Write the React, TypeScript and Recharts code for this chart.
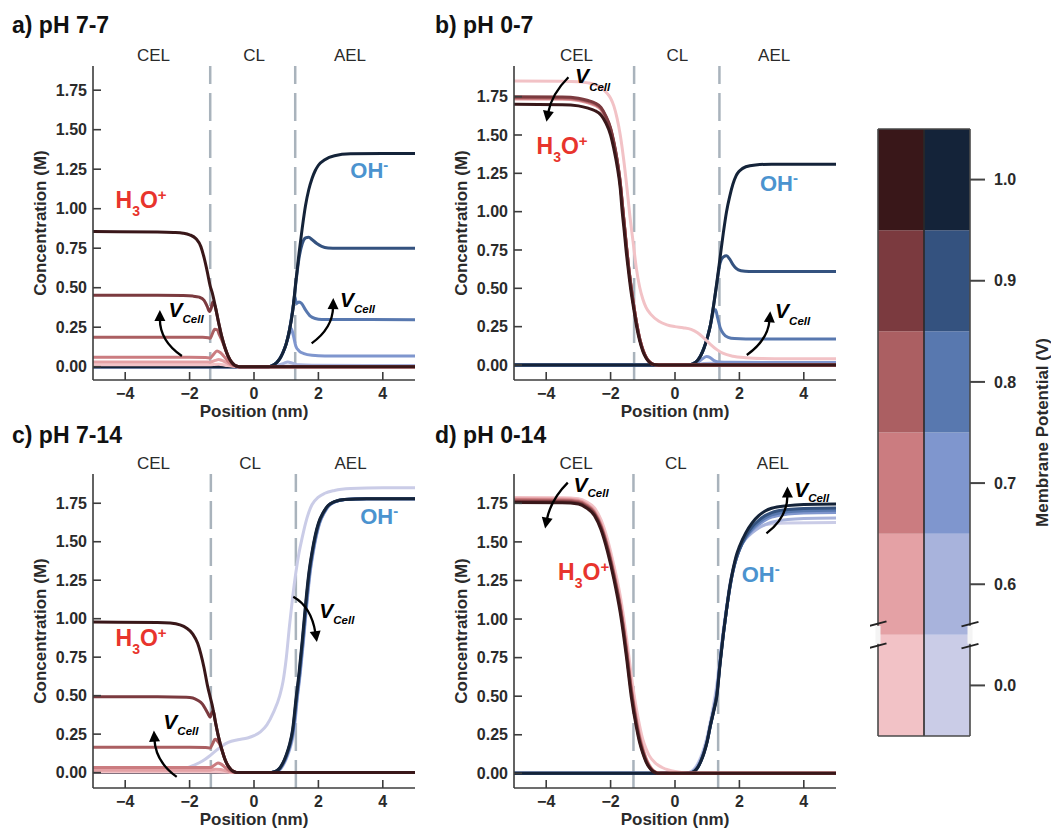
import React from 'react';
import {
  LineChart,
  Line,
  XAxis,
  YAxis,
  ReferenceLine,
  ReferenceDot,
  BarChart,
  Bar,
  Cell
} from 'recharts';

type Pt = [number, number];

const FONT = "'Liberation Sans', Arial, Helvetica, sans-serif";
const AXIS_COLOR = '#3c3c3c';
const TEXT_COLOR = '#2a2a2a';
const H3O_COLOR = '#e8342d';
const OH_COLOR = '#4b93cf';

// membrane potentials, lightest -> darkest
const POTENTIALS = ['0.0', '0.6', '0.7', '0.8', '0.9', '1.0'];
const RED = ['#f2c2c6', '#e4a1a5', '#cb7c80', '#ab5f62', '#7b3a3f', '#391719'];
const BLUE = ['#cacce7', '#a8b3dc', '#7f96ce', '#5878af', '#34527f', '#142339'];

const X_TICKS = [-4, -2, 0, 2, 4];
const Y_TICKS = [0, 0.25, 0.5, 0.75, 1, 1.25, 1.5, 1.75];
const REGIONS = ['CEL', 'CL', 'AEL'];

// ---- a) pH 7-7 ----
const aO00: Pt[] = [[-5, 0], [0.6, 0], [1.0, 0.005], [1.4, 0.003], [5, 0.002]];
const aO06: Pt[] = [[-5, 0], [0.5, 0], [0.7, 0.008], [0.9, 0.02], [1.05, 0.03], [1.2, 0.022], [1.4, 0.012], [1.8, 0.009], [5, 0.008]];
const aO07: Pt[] = [[-5, 0], [0.4, 0], [0.5, 0.002], [0.6, 0.01], [0.7, 0.025], [0.8, 0.05], [0.9, 0.09], [1.0, 0.145], [1.1, 0.21], [1.16, 0.24], [1.22, 0.2], [1.3, 0.13], [1.4, 0.1], [1.55, 0.083], [1.8, 0.072], [2.2, 0.068], [5, 0.068]];
const aO08: Pt[] = [[-5, 0], [0.4, 0], [0.5, 0.002], [0.6, 0.01], [0.7, 0.025], [0.8, 0.05], [0.9, 0.09], [1.0, 0.145], [1.1, 0.23], [1.2, 0.36], [1.27, 0.44], [1.32, 0.4], [1.4, 0.41], [1.48, 0.4], [1.6, 0.36], [1.75, 0.32], [1.9, 0.305], [2.1, 0.299], [5, 0.298]];
const aO09: Pt[] = [[-5, 0], [0.4, 0], [0.5, 0.002], [0.6, 0.01], [0.7, 0.025], [0.8, 0.05], [0.9, 0.09], [1.0, 0.145], [1.1, 0.23], [1.2, 0.35], [1.3, 0.53], [1.4, 0.69], [1.5, 0.78], [1.6, 0.815], [1.7, 0.82], [1.8, 0.805], [1.95, 0.78], [2.1, 0.762], [2.3, 0.752], [2.6, 0.75], [5, 0.75]];
const aO10: Pt[] = [[-5, 0], [0.4, 0], [0.5, 0.002], [0.6, 0.01], [0.7, 0.025], [0.8, 0.05], [0.9, 0.09], [1.0, 0.145], [1.1, 0.23], [1.2, 0.35], [1.3, 0.54], [1.4, 0.72], [1.5, 0.88], [1.6, 1.02], [1.7, 1.12], [1.8, 1.19], [1.9, 1.24], [2.0, 1.275], [2.2, 1.31], [2.5, 1.335], [3, 1.347], [4, 1.35], [5, 1.35]];
const aH00: Pt[] = [[-5, 0.012], [-1.4, 0.012], [-1.1, 0.015], [-0.9, 0.01], [-0.7, 0.004], [-0.5, 0], [5, 0]];
const aH06: Pt[] = [[-5, 0.03], [-1.5, 0.03], [-1.36, 0.029], [-1.2, 0.04], [-1.1, 0.045], [-1.0, 0.04], [-0.85, 0.025], [-0.7, 0.01], [-0.55, 0.002], [-0.45, 0], [5, 0]];
const aH07: Pt[] = [[-5, 0.06], [-2, 0.06], [-1.5, 0.058], [-1.36, 0.056], [-1.25, 0.08], [-1.15, 0.1], [-1.05, 0.09], [-0.95, 0.07], [-0.85, 0.045], [-0.75, 0.022], [-0.65, 0.008], [-0.55, 0.002], [-0.45, 0], [5, 0]];
const aH08: Pt[] = [[-5, 0.187], [-2, 0.187], [-1.6, 0.186], [-1.42, 0.183], [-1.36, 0.18], [-1.3, 0.205], [-1.22, 0.237], [-1.15, 0.235], [-1.07, 0.2], [-1, 0.17], [-0.9, 0.115], [-0.8, 0.063], [-0.7, 0.028], [-0.6, 0.009], [-0.5, 0.002], [-0.4, 0], [5, 0]];
const aH09: Pt[] = [[-5, 0.452], [-3, 0.452], [-2.2, 0.45], [-1.9, 0.447], [-1.7, 0.44], [-1.55, 0.42], [-1.45, 0.38], [-1.38, 0.35], [-1.33, 0.37], [-1.28, 0.41], [-1.22, 0.39], [-1.1, 0.28], [-1, 0.19], [-0.9, 0.12], [-0.8, 0.065], [-0.7, 0.03], [-0.6, 0.01], [-0.5, 0.002], [-0.4, 0], [5, 0]];
const aH10: Pt[] = [[-5, 0.855], [-3, 0.853], [-2.5, 0.85], [-2.2, 0.845], [-2, 0.835], [-1.8, 0.81], [-1.65, 0.76], [-1.55, 0.69], [-1.45, 0.6], [-1.36, 0.51], [-1.3, 0.47], [-1.2, 0.38], [-1.1, 0.28], [-1, 0.19], [-0.9, 0.12], [-0.8, 0.065], [-0.7, 0.03], [-0.6, 0.01], [-0.5, 0.002], [-0.4, 0], [5, 0]];

// ---- b) pH 0-7 ----
const bO00: Pt[] = [[-5, 0], [5, 0.001]];
const bO06: Pt[] = [[-5, 0], [0.6, 0], [0.9, 0.01], [1.1, 0.012], [1.4, 0.006], [5, 0.005]];
const bO07: Pt[] = [[-5, 0], [0.5, 0], [0.7, 0.015], [0.85, 0.04], [0.98, 0.055], [1.08, 0.05], [1.2, 0.03], [1.35, 0.02], [1.7, 0.017], [5, 0.016]];
const bO08: Pt[] = [[-5, 0], [0.4, 0], [0.5, 0.003], [0.6, 0.012], [0.7, 0.03], [0.8, 0.062], [0.9, 0.11], [1.0, 0.175], [1.1, 0.26], [1.2, 0.35], [1.26, 0.36], [1.32, 0.31], [1.4, 0.245], [1.5, 0.205], [1.65, 0.18], [1.85, 0.172], [2.2, 0.17], [5, 0.17]];
const bO09: Pt[] = [[-5, 0], [0.4, 0], [0.5, 0.003], [0.6, 0.012], [0.7, 0.03], [0.8, 0.062], [0.9, 0.11], [1.0, 0.175], [1.1, 0.26], [1.2, 0.39], [1.3, 0.53], [1.4, 0.665], [1.5, 0.705], [1.6, 0.712], [1.7, 0.69], [1.8, 0.655], [1.9, 0.63], [2.05, 0.615], [2.3, 0.61], [5, 0.61]];
const bO10: Pt[] = [[-5, 0], [0.4, 0], [0.5, 0.003], [0.6, 0.012], [0.7, 0.03], [0.8, 0.062], [0.9, 0.11], [1.0, 0.175], [1.1, 0.26], [1.2, 0.39], [1.3, 0.54], [1.4, 0.7], [1.5, 0.86], [1.6, 1.0], [1.7, 1.1], [1.8, 1.18], [1.9, 1.235], [2.0, 1.265], [2.2, 1.293], [2.5, 1.305], [3, 1.31], [5, 1.31]];
const bH00: Pt[] = [[-5, 1.852], [-3.5, 1.851], [-3, 1.848], [-2.7, 1.84], [-2.5, 1.83], [-2.3, 1.81], [-2.1, 1.77], [-2, 1.74], [-1.9, 1.69], [-1.8, 1.61], [-1.7, 1.5], [-1.6, 1.35], [-1.5, 1.17], [-1.4, 0.97], [-1.3, 0.8], [-1.2, 0.63], [-1.1, 0.51], [-1.0, 0.43], [-0.9, 0.375], [-0.75, 0.33], [-0.5, 0.285], [-0.25, 0.262], [0, 0.25], [0.25, 0.243], [0.5, 0.232], [0.7, 0.21], [0.9, 0.175], [1.1, 0.135], [1.3, 0.1], [1.5, 0.075], [1.8, 0.057], [2.2, 0.047], [2.7, 0.042], [3.5, 0.04], [5, 0.04]];
const bH06: Pt[] = [[-5, 1.735], [-3.5, 1.733], [-3, 1.725], [-2.7, 1.71], [-2.5, 1.695], [-2.3, 1.665], [-2.15, 1.61], [-2, 1.53], [-1.9, 1.44], [-1.8, 1.33], [-1.7, 1.18], [-1.63, 1.03], [-1.57, 0.9], [-1.51, 0.77], [-1.44, 0.635], [-1.37, 0.515], [-1.29, 0.4], [-1.19, 0.27], [-1.09, 0.165], [-0.99, 0.095], [-0.89, 0.048], [-0.79, 0.02], [-0.69, 0.006], [-0.59, 0.001], [-0.5, 0], [5, 0]];
const bH07: Pt[] = [[-5, 1.74], [-3.5, 1.738], [-3, 1.73], [-2.7, 1.715], [-2.5, 1.7], [-2.3, 1.67], [-2.15, 1.615], [-2, 1.535], [-1.9, 1.445], [-1.8, 1.335], [-1.7, 1.185], [-1.63, 1.035], [-1.57, 0.905], [-1.51, 0.775], [-1.44, 0.638], [-1.37, 0.518], [-1.29, 0.4], [-1.19, 0.27], [-1.09, 0.165], [-0.99, 0.095], [-0.89, 0.048], [-0.79, 0.02], [-0.69, 0.006], [-0.59, 0.001], [-0.5, 0], [5, 0]];
const bH08: Pt[] = [[-5, 1.745], [-3.5, 1.743], [-3, 1.735], [-2.7, 1.72], [-2.5, 1.705], [-2.3, 1.675], [-2.15, 1.62], [-2, 1.54], [-1.9, 1.45], [-1.8, 1.338], [-1.7, 1.188], [-1.63, 1.038], [-1.57, 0.908], [-1.51, 0.778], [-1.44, 0.64], [-1.37, 0.52], [-1.29, 0.4], [-1.19, 0.27], [-1.09, 0.165], [-0.99, 0.095], [-0.89, 0.048], [-0.79, 0.02], [-0.69, 0.006], [-0.59, 0.001], [-0.5, 0], [5, 0]];
const bH09: Pt[] = [[-5, 1.75], [-3.5, 1.748], [-3, 1.74], [-2.7, 1.725], [-2.5, 1.71], [-2.3, 1.68], [-2.15, 1.625], [-2, 1.545], [-1.9, 1.455], [-1.8, 1.34], [-1.7, 1.19], [-1.63, 1.04], [-1.57, 0.91], [-1.51, 0.78], [-1.44, 0.64], [-1.37, 0.52], [-1.29, 0.4], [-1.19, 0.27], [-1.09, 0.165], [-0.99, 0.095], [-0.89, 0.048], [-0.79, 0.02], [-0.69, 0.006], [-0.59, 0.001], [-0.5, 0], [5, 0]];
const bH10: Pt[] = [[-5, 1.7], [-3.5, 1.698], [-3, 1.69], [-2.7, 1.675], [-2.5, 1.66], [-2.3, 1.63], [-2.15, 1.58], [-2, 1.5], [-1.9, 1.41], [-1.8, 1.3], [-1.7, 1.15], [-1.64, 1.0], [-1.58, 0.88], [-1.52, 0.75], [-1.45, 0.62], [-1.38, 0.5], [-1.3, 0.39], [-1.2, 0.26], [-1.1, 0.16], [-1.0, 0.09], [-0.9, 0.045], [-0.8, 0.018], [-0.7, 0.005], [-0.6, 0.001], [-0.5, 0], [5, 0]];

// ---- c) pH 7-14 ----
const cO00: Pt[] = [[-5, 0], [-2.8, 0], [-2.5, 0.005], [-2.2, 0.02], [-1.9, 0.045], [-1.6, 0.075], [-1.4, 0.105], [-1.2, 0.14], [-1.0, 0.172], [-0.8, 0.196], [-0.5, 0.213], [-0.2, 0.225], [0, 0.24], [0.2, 0.265], [0.4, 0.31], [0.6, 0.39], [0.8, 0.5], [0.9, 0.59], [1.0, 0.74], [1.1, 0.95], [1.2, 1.14], [1.3, 1.3], [1.4, 1.43], [1.5, 1.53], [1.6, 1.62], [1.7, 1.69], [1.8, 1.74], [2.0, 1.79], [2.2, 1.815], [2.5, 1.833], [3, 1.845], [4, 1.85], [5, 1.85]];
const cO06: Pt[] = [[-5, 0], [0.55, 0], [0.65, 0.004], [0.75, 0.012], [0.85, 0.03], [0.95, 0.065], [1.05, 0.115], [1.15, 0.18], [1.25, 0.28], [1.34, 0.47], [1.44, 0.65], [1.54, 0.86], [1.64, 1.09], [1.74, 1.29], [1.84, 1.43], [1.94, 1.54], [2.04, 1.62], [2.19, 1.69], [2.34, 1.735], [2.54, 1.76], [2.84, 1.775], [3.5, 1.78], [5, 1.78]];
const cO07: Pt[] = [[-5, 0], [0.53, 0], [0.63, 0.004], [0.73, 0.012], [0.83, 0.03], [0.93, 0.065], [1.03, 0.115], [1.13, 0.18], [1.23, 0.28], [1.33, 0.47], [1.43, 0.65], [1.53, 0.86], [1.63, 1.09], [1.73, 1.29], [1.83, 1.43], [1.93, 1.54], [2.03, 1.62], [2.18, 1.69], [2.33, 1.735], [2.53, 1.76], [2.83, 1.775], [3.5, 1.78], [5, 1.78]];
const cO08: Pt[] = [[-5, 0], [0.52, 0], [0.62, 0.004], [0.72, 0.012], [0.82, 0.03], [0.92, 0.065], [1.02, 0.115], [1.12, 0.18], [1.22, 0.28], [1.32, 0.47], [1.42, 0.65], [1.52, 0.86], [1.62, 1.09], [1.72, 1.29], [1.82, 1.43], [1.92, 1.54], [2.02, 1.62], [2.17, 1.69], [2.32, 1.735], [2.52, 1.76], [2.82, 1.775], [3.5, 1.78], [5, 1.78]];
const cO09: Pt[] = [[-5, 0], [0.51, 0], [0.61, 0.004], [0.71, 0.012], [0.81, 0.03], [0.91, 0.065], [1.01, 0.115], [1.11, 0.18], [1.21, 0.28], [1.31, 0.47], [1.41, 0.65], [1.51, 0.86], [1.61, 1.09], [1.71, 1.29], [1.81, 1.43], [1.91, 1.54], [2.01, 1.62], [2.16, 1.69], [2.31, 1.735], [2.51, 1.76], [2.81, 1.775], [3.5, 1.78], [5, 1.78]];
const cO10: Pt[] = [[-5, 0], [0.5, 0], [0.6, 0.004], [0.7, 0.012], [0.8, 0.03], [0.9, 0.065], [1.0, 0.115], [1.1, 0.18], [1.2, 0.28], [1.3, 0.47], [1.4, 0.65], [1.5, 0.86], [1.6, 1.09], [1.7, 1.29], [1.8, 1.43], [1.9, 1.54], [2.0, 1.62], [2.15, 1.69], [2.3, 1.735], [2.5, 1.76], [2.8, 1.775], [3.5, 1.78], [5, 1.78]];
const cH00: Pt[] = [[-5, 0.004], [-1.2, 0.004], [-0.8, 0.002], [-0.6, 0], [5, 0]];
const cH06: Pt[] = [[-5, 0.015], [-1.4, 0.015], [-1.2, 0.022], [-1.05, 0.02], [-0.85, 0.01], [-0.65, 0.002], [-0.55, 0], [5, 0]];
const cH07: Pt[] = [[-5, 0.034], [-1.5, 0.034], [-1.36, 0.033], [-1.22, 0.05], [-1.12, 0.063], [-1.02, 0.055], [-0.9, 0.035], [-0.78, 0.015], [-0.65, 0.004], [-0.55, 0], [5, 0]];
const cH08: Pt[] = [[-5, 0.165], [-2, 0.165], [-1.5, 0.163], [-1.36, 0.16], [-1.28, 0.19], [-1.21, 0.217], [-1.15, 0.21], [-1.08, 0.19], [-1.0, 0.15], [-0.9, 0.085], [-0.8, 0.042], [-0.7, 0.016], [-0.6, 0.004], [-0.5, 0], [5, 0]];
const cH09: Pt[] = [[-5, 0.493], [-3, 0.493], [-2.1, 0.49], [-1.9, 0.485], [-1.75, 0.47], [-1.6, 0.445], [-1.5, 0.41], [-1.42, 0.38], [-1.36, 0.36], [-1.31, 0.39], [-1.26, 0.4], [-1.2, 0.33], [-1.1, 0.23], [-1.0, 0.15], [-0.9, 0.085], [-0.8, 0.042], [-0.7, 0.016], [-0.6, 0.004], [-0.5, 0], [5, 0]];
const cH10: Pt[] = [[-5, 0.978], [-3, 0.976], [-2.6, 0.972], [-2.3, 0.96], [-2.1, 0.94], [-1.9, 0.9], [-1.75, 0.84], [-1.65, 0.77], [-1.55, 0.68], [-1.45, 0.57], [-1.36, 0.49], [-1.3, 0.44], [-1.2, 0.33], [-1.1, 0.23], [-1.0, 0.15], [-0.9, 0.085], [-0.8, 0.042], [-0.7, 0.016], [-0.6, 0.004], [-0.5, 0], [5, 0]];

// ---- d) pH 0-14 ----
const dO00: Pt[] = [[-5, 0], [0.3, 0], [0.4, 0.004], [0.5, 0.012], [0.6, 0.03], [0.7, 0.06], [0.8, 0.105], [0.9, 0.165], [1.0, 0.24], [1.1, 0.34], [1.2, 0.45], [1.3, 0.58], [1.4, 0.76], [1.5, 0.93], [1.6, 1.08], [1.7, 1.22], [1.8, 1.32], [1.9, 1.4], [2.0, 1.46], [2.2, 1.53], [2.4, 1.57], [2.6, 1.595], [2.8, 1.61], [3.0, 1.618], [3.5, 1.623], [5, 1.625]];
const dO06: Pt[] = [[-5, 0], [0.35, 0], [0.45, 0.005], [0.55, 0.015], [0.65, 0.036], [0.75, 0.07], [0.85, 0.118], [0.95, 0.18], [1.05, 0.26], [1.15, 0.36], [1.25, 0.47], [1.35, 0.63], [1.45, 0.83], [1.55, 0.99], [1.65, 1.14], [1.75, 1.27], [1.85, 1.36], [1.95, 1.43], [2.05, 1.48], [2.2, 1.52], [2.4, 1.56], [2.6, 1.59], [2.8, 1.612], [3.0, 1.627], [3.5, 1.645], [4, 1.652], [5, 1.655]];
const dO07: Pt[] = [[-5, 0], [0.4, 0], [0.5, 0.004], [0.6, 0.014], [0.7, 0.036], [0.8, 0.078], [0.9, 0.134], [1.0, 0.208], [1.1, 0.31], [1.2, 0.405], [1.3, 0.51], [1.4, 0.72], [1.5, 0.9], [1.6, 1.06], [1.7, 1.2], [1.8, 1.31], [1.9, 1.39], [2.0, 1.45], [2.2, 1.525], [2.4, 1.575], [2.6, 1.612], [2.8, 1.64], [3.0, 1.66], [3.5, 1.68], [4, 1.687], [5, 1.69]];
const dO08: Pt[] = [[-5, 0], [0.4, 0], [0.5, 0.004], [0.6, 0.014], [0.7, 0.037], [0.8, 0.078], [0.9, 0.135], [1.0, 0.21], [1.1, 0.312], [1.2, 0.405], [1.3, 0.51], [1.4, 0.72], [1.5, 0.9], [1.6, 1.06], [1.7, 1.2], [1.8, 1.31], [1.9, 1.39], [2.0, 1.45], [2.2, 1.53], [2.4, 1.585], [2.6, 1.625], [2.8, 1.655], [3.0, 1.675], [3.5, 1.695], [4, 1.702], [5, 1.705]];
const dO09: Pt[] = [[-5, 0], [0.4, 0], [0.5, 0.004], [0.6, 0.014], [0.7, 0.038], [0.8, 0.08], [0.9, 0.137], [1.0, 0.212], [1.1, 0.315], [1.2, 0.41], [1.3, 0.52], [1.4, 0.72], [1.5, 0.9], [1.6, 1.06], [1.7, 1.2], [1.8, 1.31], [1.9, 1.39], [2.0, 1.45], [2.2, 1.54], [2.4, 1.6], [2.6, 1.64], [2.8, 1.67], [3.0, 1.69], [3.5, 1.71], [4, 1.717], [5, 1.72]];
const dO10: Pt[] = [[-5, 0], [0.4, 0], [0.5, 0.003], [0.6, 0.012], [0.7, 0.035], [0.8, 0.075], [0.9, 0.13], [1.0, 0.205], [1.1, 0.31], [1.2, 0.4], [1.3, 0.5], [1.4, 0.71], [1.5, 0.9], [1.6, 1.06], [1.7, 1.21], [1.8, 1.32], [1.9, 1.41], [2.0, 1.47], [2.2, 1.56], [2.4, 1.625], [2.6, 1.67], [2.8, 1.7], [3.0, 1.718], [3.5, 1.735], [4, 1.742], [5, 1.745]];
const dH00: Pt[] = [[-5, 1.788], [-3.5, 1.786], [-3, 1.78], [-2.75, 1.76], [-2.5, 1.72], [-2.3, 1.645], [-2.1, 1.52], [-1.9, 1.35], [-1.7, 1.15], [-1.6, 1.02], [-1.5, 0.87], [-1.36, 0.64], [-1.2, 0.42], [-1.1, 0.31], [-1.0, 0.22], [-0.9, 0.16], [-0.8, 0.115], [-0.6, 0.065], [-0.4, 0.038], [-0.2, 0.022], [0, 0.012], [0.2, 0.005], [0.4, 0.001], [0.5, 0], [5, 0]];
const dH06: Pt[] = [[-5, 1.78], [-3.5, 1.778], [-3, 1.77], [-2.75, 1.747], [-2.5, 1.7], [-2.3, 1.618], [-2.1, 1.485], [-1.9, 1.31], [-1.7, 1.1], [-1.6, 0.965], [-1.5, 0.81], [-1.36, 0.57], [-1.2, 0.36], [-1.1, 0.25], [-1.0, 0.165], [-0.9, 0.1], [-0.8, 0.055], [-0.7, 0.025], [-0.6, 0.009], [-0.5, 0.002], [-0.4, 0], [5, 0]];
const dH07: Pt[] = [[-5, 1.774], [-3.5, 1.772], [-3, 1.764], [-2.75, 1.74], [-2.5, 1.692], [-2.3, 1.608], [-2.1, 1.473], [-1.9, 1.297], [-1.7, 1.085], [-1.6, 0.95], [-1.5, 0.793], [-1.36, 0.553], [-1.2, 0.343], [-1.1, 0.235], [-1.0, 0.155], [-0.9, 0.092], [-0.8, 0.05], [-0.7, 0.022], [-0.6, 0.007], [-0.5, 0.001], [-0.4, 0], [5, 0]];
const dH08: Pt[] = [[-5, 1.768], [-3.5, 1.766], [-3, 1.758], [-2.75, 1.734], [-2.5, 1.686], [-2.3, 1.6], [-2.1, 1.465], [-1.9, 1.288], [-1.7, 1.077], [-1.6, 0.94], [-1.5, 0.78], [-1.36, 0.54], [-1.2, 0.33], [-1.1, 0.225], [-1.0, 0.147], [-0.9, 0.087], [-0.8, 0.046], [-0.7, 0.019], [-0.6, 0.006], [-0.5, 0.001], [-0.4, 0], [5, 0]];
const dH09: Pt[] = [[-5, 1.762], [-3.5, 1.76], [-3, 1.752], [-2.75, 1.728], [-2.5, 1.68], [-2.3, 1.595], [-2.1, 1.46], [-1.9, 1.28], [-1.7, 1.07], [-1.6, 0.93], [-1.5, 0.77], [-1.36, 0.53], [-1.2, 0.32], [-1.1, 0.215], [-1.0, 0.14], [-0.9, 0.082], [-0.8, 0.042], [-0.7, 0.017], [-0.6, 0.005], [-0.5, 0], [5, 0]];
const dH10: Pt[] = [[-5, 1.755], [-3.5, 1.753], [-3, 1.745], [-2.75, 1.72], [-2.5, 1.67], [-2.3, 1.58], [-2.1, 1.44], [-1.9, 1.26], [-1.7, 1.04], [-1.6, 0.9], [-1.5, 0.74], [-1.36, 0.5], [-1.2, 0.3], [-1.1, 0.2], [-1.0, 0.13], [-0.9, 0.075], [-0.8, 0.038], [-0.7, 0.015], [-0.6, 0.004], [-0.5, 0], [5, 0]];

type Arrow = {
  x: number; y: number;
  hx: number; hy: number; qx: number; qy: number;
  vx: number; vy: number; sx: number; sy: number;
};

type PanelCfg = {
  title: string;
  left: number;
  top: number;
  yDomain: [number, number];
  dashed: number[];
  regionX: number[];
  h3o: Pt;
  oh: Pt;
  arrows: Arrow[];
  blue: Pt[][];
  red: Pt[][];
};

const PANELS: PanelCfg[] = [
  {
    title: 'a) pH 7-7', left: 0, top: 26, yDomain: [-0.084, 1.903],
    dashed: [-1.36, 1.28], regionX: [-3.12, 0, 2.98],
    h3o: [-4.3, 1.004], oh: [2.99, 1.192],
    arrows: [
      { x: -2.24, y: 0.068, hx: -22, hy: -44, qx: -22, qy: -15, vx: -13.4, vy: -39.3, sx: -3.4, sy: -32.7 },
      { x: 1.79, y: 0.148, hx: 21.6, hy: -43.3, qx: 21, qy: -15, vx: 28.3, vy: -36.6, sx: 39, sy: -30 }
    ],
    blue: [aO00, aO06, aO07, aO08, aO09, aO10],
    red: [aH00, aH06, aH07, aH08, aH09, aH10]
  },
  {
    title: 'b) pH 0-7', left: 421, top: 26, yDomain: [-0.098, 1.95],
    dashed: [-1.27, 1.38], regionX: [-3.06, 0.07, 3.08],
    h3o: [-4.3, 1.376], oh: [2.64, 1.137],
    arrows: [
      { x: -3.31, y: 1.877, hx: -21.6, hy: 42.7, qx: -17, qy: 17, vx: 6.7, vy: 6, sx: 16.7, sy: 13.4 },
      { x: 2.23, y: 0.065, hx: 23.3, hy: -41.7, qx: 21, qy: -15, vx: 28.3, vy: -36.7, sx: 40, sy: -30 }
    ],
    blue: [bO00, bO06, bO07, bO08, bO09, bO10],
    red: [bH00, bH06, bH07, bH08, bH09, bH10]
  },
  {
    title: 'c) pH 7-14', left: 0, top: 434, yDomain: [-0.1, 1.94],
    dashed: [-1.34, 1.3], regionX: [-3.12, -0.12, 3.0],
    h3o: [-4.3, 0.82], oh: [3.3, 1.616],
    arrows: [
      { x: -2.4, y: -0.028, hx: -22.7, hy: -44.3, qx: -21, qy: -15, vx: -13.4, vy: -47.7, sx: -1.7, sy: -41.7 },
      { x: 1.22, y: 1.142, hx: 23.3, hy: 43.3, qx: 18, qy: 10, vx: 26, vy: 21.6, sx: 36.7, sy: 27.3 }
    ],
    blue: [cO00, cO06, cO07, cO08, cO09, cO10],
    red: [cH00, cH06, cH07, cH08, cH09, cH10]
  },
  {
    title: 'd) pH 0-14', left: 421, top: 434, yDomain: [-0.095, 1.94],
    dashed: [-1.29, 1.34], regionX: [-3.07, 0.03, 3.04],
    h3o: [-3.63, 1.256], oh: [2.07, 1.24],
    arrows: [
      { x: -3.33, y: 1.884, hx: -22.3, hy: 44, qx: -17, qy: 17, vx: 5.7, vy: 9, sx: 17.4, sy: 14 },
      { x: 2.84, y: 1.555, hx: 21, hy: -45, qx: 21, qy: -16, vx: 27.7, vy: -36.6, sx: 38.7, sy: -31.6 }
    ],
    blue: [dO00, dO06, dO07, dO08, dO09, dO10],
    red: [dH00, dH06, dH07, dH08, dH09, dH10]
  }
];

const toRows = (pts: Pt[]) => pts.map(([x, y]) => ({ x, y }));
const fmtX = (v: number) => (v < 0 ? '\u2212' + Math.abs(v) : String(v));
const fmtY = (v: number) => v.toFixed(2);

const tickStyle = { fontSize: 16, fontWeight: 'bold', fill: TEXT_COLOR, fontFamily: FONT };
const axisLineStyle = { stroke: AXIS_COLOR, strokeWidth: 1.6 };

const V_ADV = 14; // advance of the italic "V" at 21px

const arrowShape = (a: Arrow) => (p: any) => {
  const { cx, cy } = p;
  const hx = cx + a.hx;
  const hy = cy + a.hy;
  const qx = cx + a.qx;
  const qy = cy + a.qy;
  let ux = hx - qx;
  let uy = hy - qy;
  const len = Math.hypot(ux, uy) || 1;
  ux /= len;
  uy /= len;
  const bx = hx - ux * 9;
  const by = hy - uy * 9;
  const nx = -uy;
  const ny = ux;
  const subDx = Math.max(0, a.sx - a.vx - V_ADV);
  return (
    <g>
      <path d={`M${cx},${cy} Q${qx},${qy} ${bx + ux * 2},${by + uy * 2}`} stroke="#000" strokeWidth={2.3} fill="none" />
      <polygon points={`${hx + ux * 2},${hy + uy * 2} ${bx + nx * 5.5},${by + ny * 5.5} ${bx - nx * 5.5},${by - ny * 5.5}`} fill="#000" />
      <text x={cx + a.vx} y={cy + a.vy} fontSize={21} fontWeight="bold" fontStyle="italic" fill="#000" fontFamily={FONT}>
        V<tspan fontSize={11.5} dx={subDx} dy={a.sy - a.vy}>Cell</tspan>
      </text>
    </g>
  );
};

const h3oShape = (p: any) => (
  <text x={p.cx} y={p.cy} fontSize={23} fontWeight="bold" fill={H3O_COLOR} fontFamily={FONT}>
    H<tspan fontSize={14} dy={8}>3</tspan><tspan dy={-8}>O</tspan><tspan fontSize={15} dy={-8}>+</tspan>
  </text>
);

const ohShape = (p: any) => (
  <text x={p.cx} y={p.cy} fontSize={22} fontWeight="bold" fill={OH_COLOR} fontFamily={FONT}>
    OH<tspan fontSize={15} dy={-8}>-</tspan>
  </text>
);

const regionShape = (label: string) => (p: any) => (
  <text x={p.cx} y={p.cy - 5} fontSize={17} fill={TEXT_COLOR} textAnchor="middle" fontFamily={FONT}>{label}</text>
);

function Panel({ cfg }: { cfg: PanelCfg }) {
  const [y0, y1] = cfg.yDomain;
  return (
    <div style={{ position: 'absolute', left: cfg.left, top: cfg.top }}>
      <LineChart width={430} height={414} margin={{ top: 40, right: 15, bottom: 10, left: 0 }}>
        <XAxis
          dataKey="x" type="number" domain={[-5, 5]} ticks={X_TICKS} allowDataOverflow height={50}
          tickFormatter={fmtX} tickSize={-8} tickMargin={16} tick={tickStyle}
          axisLine={axisLineStyle} tickLine={axisLineStyle}
          label={({ viewBox }: any) => (
            <text x={viewBox.x + viewBox.width / 2} y={viewBox.y + 37} textAnchor="middle"
              fontSize={17} fontWeight="bold" fill={TEXT_COLOR} fontFamily={FONT}>Position (nm)</text>
          )}
        />
        <XAxis
          xAxisId="top" orientation="top" type="number" domain={[-5, 5]} ticks={X_TICKS}
          allowDataOverflow height={0} tick={false} tickSize={-8}
          axisLine={axisLineStyle} tickLine={axisLineStyle}
        />
        <YAxis
          type="number" domain={[y0, y1]} ticks={Y_TICKS} allowDataOverflow width={93}
          tickFormatter={fmtY} tickSize={-8} tickMargin={14} tick={tickStyle}
          axisLine={axisLineStyle} tickLine={axisLineStyle}
          label={({ viewBox }: any) => {
            const lx = viewBox.x + 40;
            const ly = viewBox.y + viewBox.height / 2;
            return (
              <text x={lx} y={ly} transform={`rotate(-90 ${lx} ${ly})`} textAnchor="middle" dominantBaseline="central"
                fontSize={17} fontWeight="bold" fill={TEXT_COLOR} fontFamily={FONT}>Concentration (M)</text>
            );
          }}
        />
        <YAxis
          yAxisId="right" orientation="right" type="number" domain={[y0, y1]} ticks={Y_TICKS}
          allowDataOverflow width={0} tick={false} tickSize={-8}
          axisLine={axisLineStyle} tickLine={axisLineStyle}
        />
        {cfg.dashed.map((d) => (
          <ReferenceLine key={d} x={d} stroke="#a9b3bc" strokeWidth={2.5} strokeDasharray="28 9" />
        ))}
        {cfg.blue.map((pts, i) => (
          <Line key={'o' + i} data={toRows(pts)} dataKey="y" type="monotone" stroke={BLUE[i]}
            strokeWidth={3} dot={false} activeDot={false} isAnimationActive={false} />
        ))}
        {cfg.red.map((pts, i) => (
          <Line key={'h' + i} data={toRows(pts)} dataKey="y" type="monotone" stroke={RED[i]}
            strokeWidth={3} dot={false} activeDot={false} isAnimationActive={false} />
        ))}
        {cfg.regionX.map((rx, i) => (
          <ReferenceDot key={'r' + i} x={rx} y={y1} r={0} ifOverflow="visible" shape={regionShape(REGIONS[i])} />
        ))}
        <ReferenceDot x={cfg.h3o[0]} y={cfg.h3o[1]} r={0} ifOverflow="visible" shape={h3oShape} />
        <ReferenceDot x={cfg.oh[0]} y={cfg.oh[1]} r={0} ifOverflow="visible" shape={ohShape} />
        {cfg.arrows.map((a, i) => (
          <ReferenceDot key={'a' + i} x={a.x} y={a.y} r={0} ifOverflow="visible" shape={arrowShape(a)} />
        ))}
      </LineChart>
    </div>
  );
}

// colorbar: one block per potential, two columns (H3O+ / OH-)
const CB_COLUMNS = ['H3O+', 'OH-'];
const CB_TICKS = [0.5, 1.5, 2.5, 3.5, 4.5, 5.5];
const colorbarRows = CB_COLUMNS.map((ion) => {
  const row: Record<string, number | string> = { ion };
  POTENTIALS.forEach((_, i) => { row['b' + i] = 1; });
  return row;
});

const CB_HALF = 23; // half of one colorbar column
const CB_EDGE = '#4a4a4a';

const breakShape = (shift: number, lift: number) => (p: any) => {
  const cx = p.cx + shift;
  const cy = p.cy;
  return (
    <g>
      <rect x={cx - 2.5} y={cy - 9} width={5} height={18} fill="#f4f4f4" />
      <line x1={cx - 8.5} y1={cy - 9 + lift} x2={cx + 8.5} y2={cy - 13.5 + lift} stroke="#222" strokeWidth={1.8} />
      <line x1={cx - 8.5} y1={cy + 13 + lift} x2={cx + 8.5} y2={cy + 8.5 + lift} stroke="#222" strokeWidth={1.8} />
    </g>
  );
};

function Colorbar() {
  return (
    <div style={{ position: 'absolute', left: 870, top: 119 }}>
      <BarChart width={181} height={627} data={colorbarRows} margin={{ top: 10, right: 11, bottom: 10, left: 8 }}
        barCategoryGap={0} barGap={0}>
        <XAxis dataKey="ion" hide />
        <YAxis
          orientation="right" type="number" domain={[0, 6]} ticks={CB_TICKS} width={70}
          tickFormatter={(v: number) => POTENTIALS[Math.floor(v)]}
          tickSize={15} tickMargin={9} tick={tickStyle} axisLine={false}
          tickLine={{ stroke: '#444', strokeWidth: 2 }}
          label={({ viewBox }: any) => {
            const lx = viewBox.x + 72;
            const ly = viewBox.y + viewBox.height / 2;
            return (
              <text x={lx} y={ly} transform={`rotate(-90 ${lx} ${ly})`} textAnchor="middle" dominantBaseline="central"
                fontSize={17} fontWeight="bold" fill={TEXT_COLOR} fontFamily={FONT}>Membrane Potential (V)</text>
            );
          }}
        />
        {POTENTIALS.map((p, i) => (
          <Bar key={p} dataKey={'b' + i} stackId="cb" isAnimationActive={false}>
            {CB_COLUMNS.map((c, j) => (
              <Cell key={c} fill={j === 0 ? RED[i] : BLUE[i]} />
            ))}
          </Bar>
        ))}
        <ReferenceLine x="OH-" position="start" stroke="#2a2a2a" strokeWidth={1.6} />
        <ReferenceLine x="H3O+" position="start" stroke={CB_EDGE} strokeWidth={1.6} />
        <ReferenceLine x="OH-" position="end" stroke={CB_EDGE} strokeWidth={1.6} />
        <ReferenceLine y={0} stroke={CB_EDGE} strokeWidth={1.6} />
        <ReferenceLine y={6} stroke={CB_EDGE} strokeWidth={1.6} />
        <ReferenceDot x="H3O+" y={1} r={0} ifOverflow="visible" shape={breakShape(-CB_HALF, 0)} />
        <ReferenceDot x="OH-" y={1} r={0} ifOverflow="visible" shape={breakShape(CB_HALF, 0.5)} />
      </BarChart>
    </div>
  );
}

const TITLE_POS = [[12, 33], [435, 33], [12, 443], [435, 443]];

export default function App() {
  return (
    <div style={{ position: 'absolute', left: 0, top: 0, width: 1051, height: 829, background: '#fff', fontFamily: FONT }}>
      <svg width={1051} height={829} style={{ position: 'absolute', left: 0, top: 0 }}>
        {PANELS.map((p, i) => (
          <text key={p.title} x={TITLE_POS[i][0]} y={TITLE_POS[i][1]} fontSize={23} fontWeight="bold" fill="#111" fontFamily={FONT}>
            {p.title}
          </text>
        ))}
      </svg>
      {PANELS.map((p) => (
        <Panel key={p.title} cfg={p} />
      ))}
      <Colorbar />
    </div>
  );
}
